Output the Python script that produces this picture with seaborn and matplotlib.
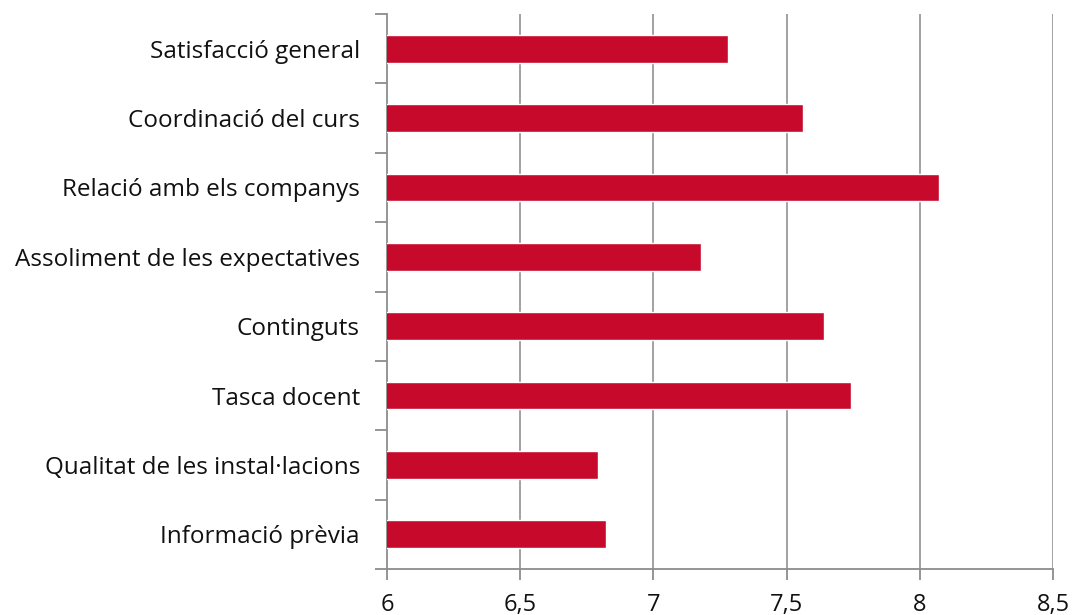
import numpy as np
import pandas as pd
import matplotlib.pyplot as plt
import seaborn as sns
from matplotlib.ticker import FixedLocator

# Valors llegits del gràfic
categories = ["Satisfacció general", "Coordinació del curs", "Relació amb els companys",
              "Assoliment de les expectatives", "Continguts", "Tasca docent",
              "Qualitat de les instal·lacions", "Informació prèvia"]
valors = [7.28, 7.56, 8.07, 7.18, 7.64, 7.74, 6.79, 6.82]
x_ticks = [6, 6.5, 7, 7.5, 8, 8.5]
x_tick_labels = ["6", "6,5", "7", "7,5", "8", "8,5"]

df = pd.DataFrame({"categoria": categories, "valor": valors})

sns.set_style("white")
plt.rcParams['font.family'] = ['Open Sans', 'DejaVu Sans']

fig = plt.figure(figsize=(10.74, 6.15), dpi=100)
ax = fig.add_axes([0.3603, 0.0748, 0.9807 - 0.3603, 0.9772 - 0.0748])

sns.barplot(data=df, x="valor", y="categoria", orient="h", color="#C70A2B",
            width=0.40, saturation=1, ax=ax, zorder=3)

ax.set_xlim(6, 8.5)
ax.set_ylim(len(categories) - 0.5, -0.5)
ax.set_xticks(x_ticks)
ax.set_xticklabels(x_tick_labels, fontsize=17, color="#111111")
ax.tick_params(axis="x", bottom=True, length=8, width=1.3, color="#8c8c8c", pad=9)
ax.tick_params(axis="y", which="major", left=False, labelsize=17.5, labelcolor="#111111", pad=16)
ax.yaxis.set_minor_locator(FixedLocator(np.arange(-0.5, len(categories), 1)))
ax.tick_params(axis="y", which="minor", left=True, length=9, width=1.3, color="#8c8c8c")
ax.set_xlabel("")
ax.set_ylabel("")

for x in x_ticks[1:]:
    ax.axvline(x, color="#9a9a9a", lw=1.3, zorder=1)

for side in ["top", "right"]:
    ax.spines[side].set_visible(False)
for side in ["left", "bottom"]:
    ax.spines[side].set_color("#8c8c8c")
    ax.spines[side].set_linewidth(1.3)

fig.savefig("out.png", dpi=100, facecolor="white")
